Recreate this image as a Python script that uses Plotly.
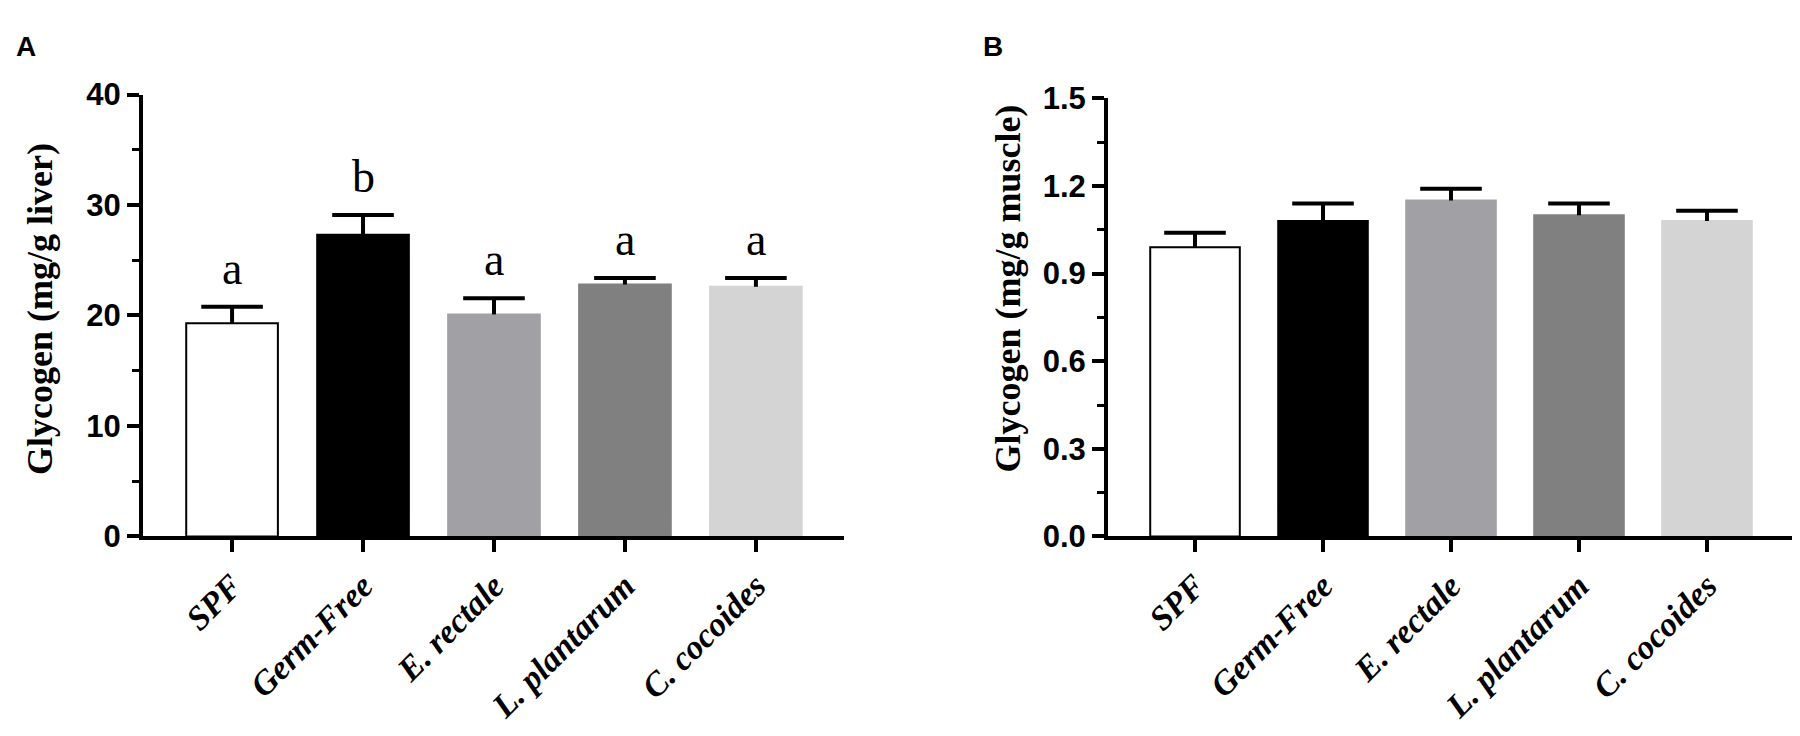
import plotly.graph_objects as go

groups = ["SPF", "Germ-Free", "E. rectale", "L. plantarum", "C. cocoides"]
liver_mean = [19.3, 27.3, 20.1, 22.8, 22.6]
liver_sem = [1.5, 1.8, 1.45, 0.6, 0.8]
liver_letters = ["a", "b", "a", "a", "a"]
muscle_mean = [0.99, 1.08, 1.15, 1.10, 1.08]
muscle_sem = [0.05, 0.06, 0.04, 0.04, 0.035]

bar_colors = ["#ffffff", "#000000", "#a1a1a5", "#808080", "#d4d4d4"]
line_colors = ["#000000", "#000000", "#a1a1a5", "#808080", "#d4d4d4"]

serif = "Liberation Serif, Times New Roman, serif"
sans = "Liberation Sans, Arial, sans-serif"


def add_panel(fig, means, sems, xa, ya):
    idx = list(range(len(groups)))
    fig.add_trace(go.Bar(
        x=idx, y=means, width=0.7,
        marker=dict(color=bar_colors, line=dict(color=line_colors, width=2)),
        xaxis=xa, yaxis=ya, showlegend=False))
    tops = [m + s for m, s in zip(means, sems)]
    fig.add_trace(go.Scatter(
        x=idx, y=tops, mode="markers",
        marker=dict(symbol="line-ew", size=44, line=dict(color="black", width=4)),
        error_y=dict(type="data", symmetric=False, array=[0] * len(sems),
                     arrayminus=sems, width=0, thickness=4, color="black"),
        xaxis=xa, yaxis=ya, showlegend=False))
    return tops


fig = go.Figure()
tops_a = add_panel(fig, liver_mean, liver_sem, "x", "y")
add_panel(fig, muscle_mean, muscle_sem, "x2", "y2")

for i, (t, lab) in enumerate(zip(tops_a, liver_letters)):
    fig.add_annotation(x=i, y=t, xref="x", yref="y", text=lab, showarrow=False,
                       yanchor="bottom", yshift=11,
                       font=dict(family=serif, size=46, color="black"))

ticktext = ["<b><i>%s</i></b>" % g for g in groups]
xcommon = dict(tickmode="array", tickvals=list(range(len(groups))), ticktext=ticktext,
               tickangle=-45, ticks="outside", ticklen=12, tickwidth=4, tickcolor="black",
               showline=True, linewidth=4, linecolor="black", showgrid=False, zeroline=False,
               tickfont=dict(family=serif, size=34, color="black"))
ycommon = dict(ticks="outside", ticklen=12, tickwidth=4, tickcolor="black",
               showline=True, linewidth=4, linecolor="black", showgrid=False, zeroline=False,
               tickfont=dict(family=sans, size=31, color="black", weight="bold"))

fig.update_layout(
    width=1800, height=736,
    margin=dict(l=0, r=0, t=0, b=0),
    paper_bgcolor="white", plot_bgcolor="white",
    xaxis=dict(domain=[0.075, 0.4644], range=[-0.68, 4.672], anchor="y", **xcommon),
    yaxis=dict(domain=[0.2704, 0.9008], range=[0, 40], tickvals=[0, 10, 20, 30, 40],
               minor=dict(tickvals=[5, 15, 25, 35], ticks="outside", ticklen=7,
                          tickwidth=3, tickcolor="black"),
               anchor="x", **ycommon),
    xaxis2=dict(domain=[0.6111, 0.9933], range=[-0.68, 4.695], anchor="y2", **xcommon),
    yaxis2=dict(domain=[0.2704, 0.8954], range=[0, 1.5],
                tickvals=[0, 0.3, 0.6, 0.9, 1.2, 1.5], tickformat=".1f",
                minor=dict(tickvals=[0.15, 0.45, 0.75, 1.05, 1.35], ticks="outside",
                           ticklen=7, tickwidth=3, tickcolor="black"),
                anchor="x2", **ycommon),
)

# axis titles and panel letters
fig.add_annotation(x=32 / 1800, y=0.595, xref="paper", yref="paper",
                   text="<b>Glycogen (mg/g liver)</b>",
                   textangle=-90, showarrow=False, xanchor="center", yanchor="middle",
                   font=dict(family=serif, size=36, color="black"))
fig.add_annotation(x=1000 / 1800, y=0.624, xref="paper", yref="paper",
                   text="<b>Glycogen (mg/g muscle)</b>",
                   textangle=-90, showarrow=False, xanchor="center", yanchor="middle",
                   font=dict(family=serif, size=36, color="black"))
fig.add_annotation(x=6 / 1800, y=1 - 4 / 736, xref="paper", yref="paper", text="<b>A</b>",
                   showarrow=False, xanchor="left", yanchor="top",
                   font=dict(family=sans, size=28, color="black"))
fig.add_annotation(x=973 / 1800, y=1 - 4 / 736, xref="paper", yref="paper", text="<b>B</b>",
                   showarrow=False, xanchor="left", yanchor="top",
                   font=dict(family=sans, size=28, color="black"))

fig.write_html("out.html")
